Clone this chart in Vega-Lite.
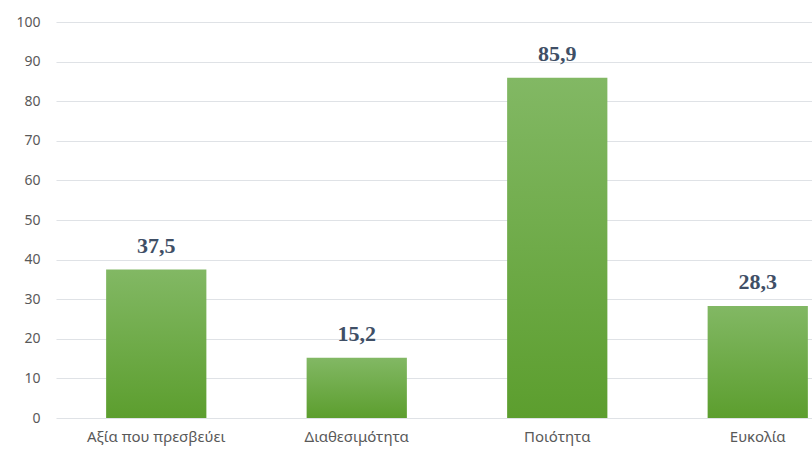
{
  "$schema": "https://vega.github.io/schema/vega-lite/v6.json",
  "width": 802,
  "height": 396,
  "autosize": {"type": "none"},
  "padding": {"left": 56, "top": 22, "right": 0, "bottom": 32},
  "background": "white",
  "data": {"values": [
    {"category": "Αξία που πρεσβεύει", "value": 37.5, "label": "37,5"},
    {"category": "Διαθεσιμότητα", "value": 15.2, "label": "15,2"},
    {"category": "Ποιότητα", "value": 85.9, "label": "85,9"},
    {"category": "Ευκολία", "value": 28.3, "label": "28,3"}
  ]},
  "encoding": {
    "x": {"field": "category", "type": "nominal", "sort": null,
      "scale": {"paddingInner": 0.5, "paddingOuter": 0.25},
      "axis": {"title": null, "labelAngle": 0, "domain": false, "ticks": false, "labelFont": "Noto Sans", "labelFontSize": 15, "labelColor": "#595959", "labelPadding": 11}},
    "y": {"field": "value", "type": "quantitative",
      "scale": {"domain": [0, 100]},
      "axis": {"title": null, "values": [0,10,20,30,40,50,60,70,80,90,100], "labelOverlap": false, "domain": false, "ticks": false, "grid": true, "gridColor": "#dfe2e6", "gridWidth": 1.2, "labelFont": "Noto Sans", "labelFontSize": 14, "labelColor": "#595959", "labelPadding": 16}}
  },
  "layer": [
    {"mark": {"type": "bar", "color": {"gradient": "linear", "x1": 0, "y1": 0, "x2": 0, "y2": 1, "stops": [{"offset": 0, "color": "#82b864"}, {"offset": 1, "color": "#5c9e2e"}]}}},
    {"mark": {"type": "text", "dy": -12, "baseline": "bottom", "font": "Liberation Serif", "fontWeight": "bold", "fontSize": 22, "color": "#3f4f66"},
      "encoding": {"text": {"field": "label"}}}
  ],
  "config": {"view": {"stroke": null}}
}
